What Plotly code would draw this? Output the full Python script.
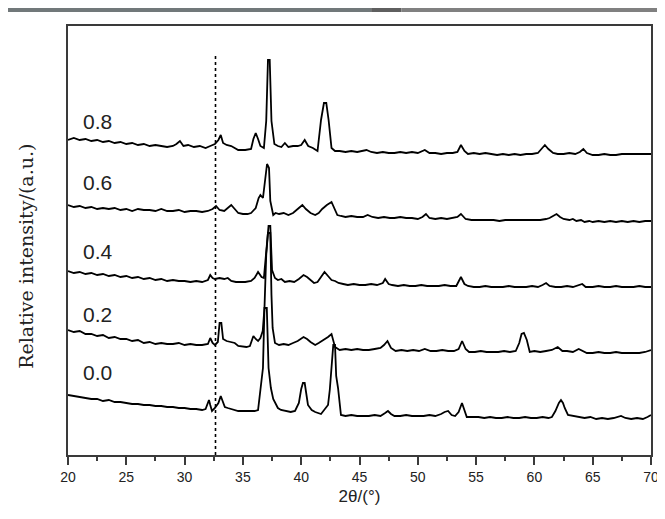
import plotly.graph_objects as go

# ---- data: (2theta in degrees, stacked relative intensity in a.u.) ----
labels = ["0.8", "0.6", "0.4", "0.2", "0.0"]

s08 = [(20, 315), (20.5, 317), (21, 315), (21.5, 316), (22, 314), (22.5, 315), (23, 313), (23.5, 314),
       (24, 312), (24.5, 313), (25, 311), (25.5, 312), (26, 310), (26.5, 311), (27, 309), (27.5, 310),
       (28, 309), (28.5, 308), (29, 309), (29.3, 311), (29.6, 314), (29.9, 309), (30.3, 310), (30.8, 308),
       (31.3, 309), (31.8, 307), (32.2, 309), (32.6, 311), (32.9, 315), (33.1, 320), (33.3, 312),
       (33.6, 310), (34.0, 309), (34.3, 307), (34.6, 305), (35.2, 305), (35.7, 306), (35.9, 316),
       (36.1, 322), (36.3, 316), (36.5, 309), (36.8, 307), (37.0, 334), (37.15, 395), (37.3, 395),
       (37.45, 334), (37.7, 311), (38.0, 309), (38.3, 308), (38.6, 312), (38.9, 308), (39.3, 309),
       (39.7, 309), (40.0, 310), (40.3, 315), (40.6, 309), (41.0, 307), (41.4, 304), (41.7, 335),
       (41.95, 352), (42.15, 352), (42.35, 335), (42.6, 307), (42.9, 304), (43.3, 304), (43.8, 303),
       (44.3, 304), (44.8, 303), (45.3, 304), (45.6, 305), (46, 303), (46.5, 302), (47, 303), (47.5, 302),
       (48, 302), (48.5, 303), (49, 302), (49.5, 303), (50, 302), (50.6, 305), (51, 302), (51.5, 302),
       (52, 301), (52.5, 302), (53, 302), (53.4, 303), (53.7, 310), (54.0, 304), (54.3, 301), (54.8, 302),
       (55.3, 301), (55.8, 302), (56.3, 301), (56.8, 300), (57.3, 301), (57.8, 300), (58.3, 301),
       (58.8, 300), (59.3, 301), (59.8, 301), (60.3, 302), (60.6, 306), (60.9, 310), (61.2, 306),
       (61.6, 302), (62, 301), (62.5, 301), (63, 302), (63.5, 301), (63.9, 303), (64.2, 306), (64.5, 302),
       (65, 300), (65.5, 300), (66, 301), (66.5, 300), (67, 300), (67.5, 301), (68, 301), (68.5, 301),
       (69, 301), (69.5, 301), (70, 301)]

s06 = [(20, 250), (20.5, 248), (21, 249), (21.5, 247), (22, 248), (22.5, 246), (23, 247), (23.5, 246),
       (24, 247), (24.5, 245), (25, 246), (25.5, 244), (26, 246), (26.5, 245), (27, 245), (27.5, 244),
       (28, 246), (28.5, 244), (29, 244), (29.5, 245), (30, 243), (30.5, 244), (31, 244), (31.5, 243),
       (32, 244), (32.4, 246), (32.7, 249), (33.0, 245), (33.4, 244), (33.7, 247), (34.0, 250),
       (34.3, 246), (34.6, 242), (35.0, 241), (35.4, 241), (35.7, 242), (36.1, 247), (36.35, 257),
       (36.5, 260), (36.72, 257), (36.9, 275), (37.07, 291), (37.24, 287), (37.35, 254), (37.6, 240),
       (37.8, 242), (38.1, 241), (38.5, 242), (38.9, 240), (39.3, 242), (39.7, 246), (40.1, 250),
       (40.4, 246), (40.8, 242), (41.2, 240), (41.5, 242), (41.8, 246), (42.2, 250), (42.6, 253),
       (42.85, 247), (43.1, 240), (43.4, 239), (43.8, 238), (44.3, 239), (44.8, 238), (45.3, 238),
       (45.7, 240), (46.1, 238), (46.6, 237), (47.1, 238), (47.6, 237), (48, 237), (48.5, 238), (49, 237),
       (49.5, 237), (50, 236), (50.4, 238), (50.7, 241), (51, 237), (51.5, 236), (52, 237), (52.5, 236),
       (53, 237), (53.4, 238), (53.7, 241), (54.1, 236), (54.6, 235), (55, 235), (55.5, 235), (56, 235),
       (56.5, 235), (57, 234), (57.5, 235), (58, 235), (58.5, 235), (59, 235), (59.5, 235), (60, 235),
       (60.5, 235), (61, 236), (61.3, 237), (61.6, 239), (61.9, 241), (62.2, 238), (62.5, 236), (63, 235),
       (63.3, 236), (63.6, 234), (64, 235), (64.3, 233), (64.7, 234), (65, 233), (65.5, 234), (66, 233),
       (66.5, 234), (67, 233), (67.5, 234), (68, 233), (68.5, 234), (69, 233), (69.5, 234), (70, 234)]

s04 = [(20, 184), (20.5, 182), (21, 183), (21.5, 181), (22, 182), (22.5, 180), (23, 181), (23.5, 179),
       (24, 180), (24.5, 178), (25, 179), (25.5, 177), (26, 178), (26.5, 176), (27, 177), (27.5, 175),
       (28, 176), (28.5, 174), (29, 175), (29.5, 174), (30, 174), (30.5, 173), (31, 174), (31.5, 173),
       (32.0, 175), (32.2, 180), (32.4, 177), (32.6, 176), (33.0, 177), (33.4, 176), (33.7, 177),
       (34.0, 174), (34.4, 173), (34.8, 173), (35.2, 173), (35.7, 174), (36.0, 177), (36.3, 183),
       (36.6, 178), (36.8, 177), (37.0, 207), (37.2, 229), (37.35, 229), (37.5, 185), (37.75, 177),
       (38.0, 175), (38.3, 176), (38.6, 173), (39.0, 174), (39.4, 173), (39.8, 176), (40.2, 180),
       (40.5, 178), (40.8, 175), (41.1, 172), (41.4, 173), (41.7, 178), (42.0, 183), (42.3, 179),
       (42.6, 175), (42.9, 174), (43.2, 172), (43.6, 171), (44, 170), (44.5, 171), (45, 170), (45.5, 170),
       (46, 171), (46.5, 170), (47.0, 172), (47.2, 176), (47.5, 171), (47.8, 170), (48.3, 169),
       (48.8, 170), (49.3, 169), (49.8, 169), (50.3, 170), (50.8, 169), (51.3, 169), (51.8, 169),
       (52.3, 170), (52.8, 169), (53.3, 169), (53.7, 178), (54.0, 171), (54.3, 169), (54.8, 168),
       (55.3, 168), (55.8, 169), (56.3, 168), (56.8, 168), (57.3, 168), (57.8, 169), (58.3, 168),
       (58.8, 168), (59.3, 168), (59.8, 169), (60.3, 168), (60.7, 170), (61.0, 172), (61.3, 169),
       (61.8, 168), (62.3, 168), (62.8, 169), (63.3, 168), (63.8, 170), (64.1, 171), (64.4, 168),
       (65, 168), (65.5, 169), (66, 168), (66.5, 168), (67, 169), (67.5, 168), (68, 168), (68.5, 168),
       (69, 169), (69.5, 168), (70, 168)]

s02 = [(20, 125), (20.5, 123), (21, 124), (21.5, 121), (22, 121), (22.5, 119), (23, 120), (23.5, 117),
       (24, 118), (24.5, 116), (25, 116), (25.5, 114), (26, 115), (26.5, 112), (27, 113), (27.5, 111),
       (28, 112), (28.5, 111), (29, 111), (29.5, 112), (30, 110), (30.5, 111), (31, 110), (31.5, 110),
       (32.0, 111), (32.2, 117), (32.4, 112), (32.6, 110), (32.85, 113), (33.0, 132), (33.15, 132),
       (33.3, 116), (33.6, 114), (34.0, 113), (34.3, 112), (34.6, 109), (35.0, 108), (35.3, 108),
       (35.6, 109), (35.9, 119), (36.1, 116), (36.3, 114), (36.5, 117), (36.7, 124), (36.85, 147),
       (37.0, 200), (37.15, 222), (37.35, 222), (37.45, 160), (37.55, 127), (37.75, 112), (38.1, 110),
       (38.5, 111), (38.9, 110), (39.3, 112), (39.7, 114), (40.2, 118), (40.5, 116), (40.8, 113),
       (41.2, 110), (41.5, 112), (41.8, 114), (42.3, 118), (42.6, 121), (42.9, 108), (43.3, 105),
       (43.8, 106), (44.3, 105), (44.8, 106), (45.3, 105), (45.8, 105), (46.3, 106), (46.8, 107),
       (47.1, 110), (47.4, 114), (47.7, 107), (48.1, 104), (48.6, 105), (49.1, 104), (49.6, 105),
       (50.1, 104), (50.6, 106), (51.1, 104), (51.6, 104), (52.1, 105), (52.6, 104), (53.1, 104),
       (53.5, 106), (53.8, 114), (54.1, 106), (54.4, 103), (54.9, 103), (55.4, 104), (55.9, 103),
       (56.4, 103), (56.9, 103), (57.4, 104), (57.9, 103), (58.4, 104), (58.7, 112), (58.9, 121),
       (59.1, 122), (59.35, 115), (59.6, 103), (60.0, 104), (60.5, 103), (61.0, 104), (61.5, 105),
       (62.0, 108), (62.4, 104), (62.8, 104), (63.3, 103), (63.8, 106), (64.1, 104), (64.5, 102),
       (65, 102), (65.5, 103), (66, 102), (66.5, 102), (67, 103), (67.5, 102), (68, 102), (68.5, 102),
       (69, 102), (69.5, 103), (70, 105)]

s00 = [(20, 60), (20.5, 59), (21, 58), (21.5, 57), (22, 56), (22.5, 56), (23, 54), (23.5, 55), (24, 53),
       (24.5, 53), (25, 52), (25.5, 51), (26, 51), (26.5, 50), (27, 50), (27.5, 49), (28, 49), (28.5, 48),
       (29, 48), (29.5, 47), (30, 47), (30.5, 46), (31, 46), (31.5, 45), (31.8, 46), (32.0, 52),
       (32.09, 55), (32.2, 50), (32.35, 44), (32.6, 47), (32.9, 52), (33.1, 59), (33.3, 53), (33.45, 48),
       (33.7, 47), (34.0, 46), (34.6, 44), (35.0, 44), (35.5, 44), (36.0, 44), (36.3, 45), (36.45, 58),
       (36.55, 69), (36.72, 87), (36.85, 147), (37.05, 147), (37.2, 87), (37.4, 67), (37.6, 56),
       (37.75, 53), (38.0, 47), (38.27, 45), (38.7, 44), (39.1, 43), (39.47, 44), (39.8, 52), (40.0, 66),
       (40.15, 72), (40.3, 72), (40.45, 60), (40.58, 50), (40.9, 45), (41.2, 43), (41.7, 41), (42.0, 45),
       (42.3, 50), (42.45, 65), (42.56, 79), (42.75, 110), (42.9, 110), (43.0, 79), (43.16, 67),
       (43.3, 50), (43.41, 40), (43.8, 39), (44.3, 40), (44.8, 39), (45.3, 39), (45.8, 39), (46.3, 40),
       (46.8, 39), (47.2, 42), (47.44, 44), (47.7, 41), (48, 39), (48.5, 39), (49, 40), (49.5, 39),
       (50, 39), (50.5, 39), (51, 40), (51.5, 39), (52.0, 41), (52.3, 43), (52.6, 44), (52.9, 40),
       (53.2, 39), (53.5, 43), (53.79, 52), (54.0, 44), (54.2, 38), (54.7, 38), (55.2, 38), (55.7, 37),
       (56.2, 38), (56.7, 37), (57.2, 37), (57.7, 38), (58.2, 37), (58.7, 37), (59.2, 38), (59.7, 37),
       (60.2, 37), (60.7, 38), (61.2, 37), (61.5, 38), (61.8, 44), (62.1, 52), (62.28, 55), (62.45, 52),
       (62.6, 47), (62.88, 40), (63.3, 39), (63.8, 38), (64.3, 37), (64.8, 38), (65.3, 36), (65.8, 37),
       (66.3, 36), (66.8, 37), (67.2, 38), (67.43, 39), (67.8, 37), (68.3, 36), (68.8, 37), (69.3, 36),
       (69.7, 38), (70, 40)]

ref_line_2theta = 32.65
ref_line_top = 400
label_x = 21.1
label_y = [334, 273, 204, 141, 83]

series = [s08, s06, s04, s02, s00]

fig = go.Figure()
for name, pts in zip(labels, series):
    xs = [p[0] for p in pts]
    ys = [p[1] for p in pts]
    fig.add_trace(go.Scatter(x=xs, y=ys, mode="lines", name=name,
                             line=dict(color="black", width=1.8), showlegend=False))

fig.add_trace(go.Scatter(x=[ref_line_2theta, ref_line_2theta], y=[0, ref_line_top], mode="lines",
                         line=dict(color="black", width=1.6, dash="dot"), showlegend=False))

for name, ly in zip(labels, label_y):
    fig.add_annotation(x=label_x, y=ly, text=name, showarrow=False, xanchor="left", yanchor="middle",
                       font=dict(family="Liberation Sans", size=21, color="#222"))

axcol = "#3a3a3a"
fig.update_xaxes(range=[20, 70], showline=True, linecolor=axcol, linewidth=2, mirror=True,
                 ticks="outside", ticklen=8, tickwidth=1.5, tickcolor=axcol, tick0=20, dtick=5,
                 minor=dict(ticks="outside", ticklen=4, tickwidth=1.5, tickcolor=axcol, dtick=2.5, tick0=20),
                 showgrid=False, zeroline=False,
                 tickfont=dict(family="Liberation Sans", size=14, color="#222"),
                 title=dict(text="2θ/(°)", font=dict(family="Liberation Sans", size=17, color="#222"),
                            standoff=6))
fig.update_yaxes(range=[0, 429], showline=True, linecolor=axcol, linewidth=2, mirror=True,
                 ticks="", showticklabels=False, showgrid=False, zeroline=False)

fig.add_annotation(xref="paper", yref="paper", x=-0.072, y=0.462, text="Relative intensity/(a.u.)",
                   textangle=-90, showarrow=False, xanchor="center", yanchor="middle",
                   font=dict(family="DejaVu Serif", size=19, color="#222"))

# screenshot frame bands around the figure
frame = [
    (-0.1029, 0.52, 1.0326, 1.045, "#71787a"),
    (0.52, 0.572, 1.0326, 1.045, "#5f5f5f"),
    (0.572, 1.04, 1.0326, 1.045, "#808080"),
    (1.0309, 1.04, -0.17, 1.045, "#808080"),
    (-0.1029, 1.04, -0.17, -0.1608, "#7a7a7a"),
]
for x0, x1, y0, y1, c in frame:
    fig.add_shape(type="rect", xref="paper", yref="paper", x0=x0, x1=x1, y0=y0, y1=y1,
                  fillcolor=c, line=dict(width=0), layer="above")

fig.update_layout(width=665, height=519, margin=dict(l=60, r=22, t=18, b=72),
                  paper_bgcolor="white", plot_bgcolor="white")

fig.write_html("out.html")
